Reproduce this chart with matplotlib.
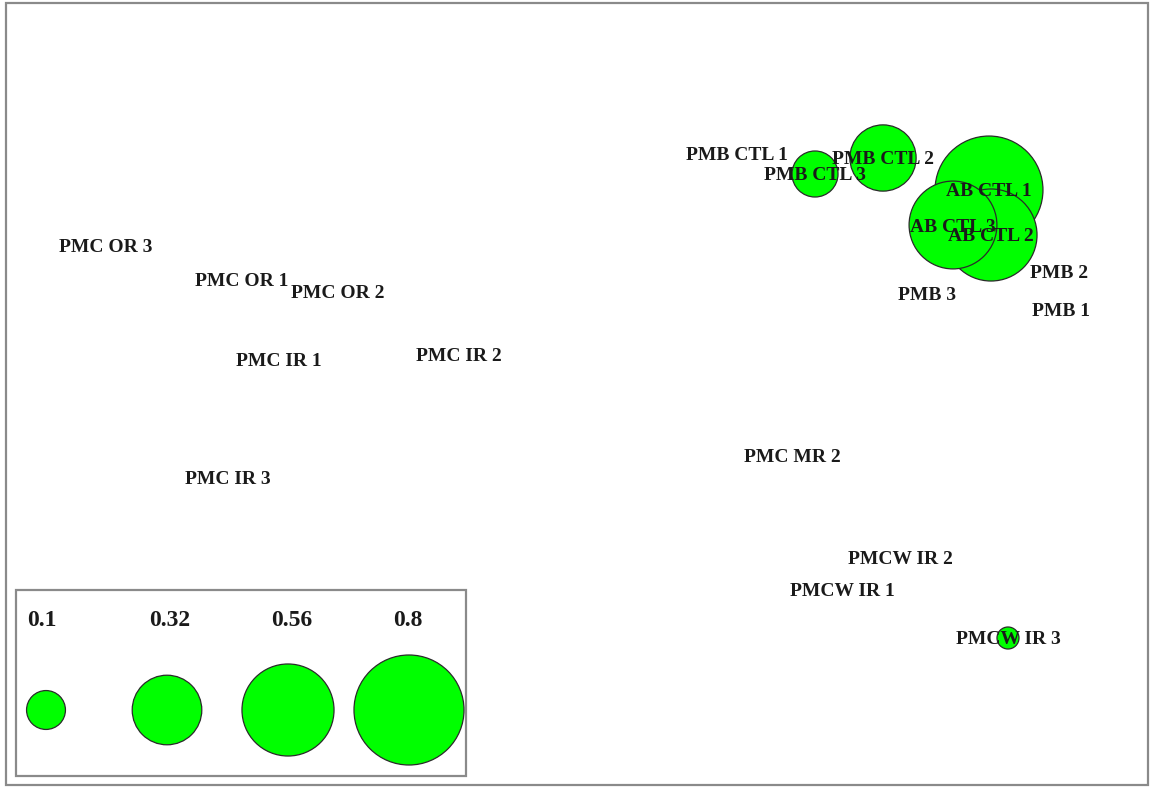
import matplotlib
matplotlib.use("Agg")
import matplotlib.pyplot as plt
from matplotlib.patches import Circle, Rectangle
import numpy as np

# ---- data (MDS-like coordinates, y upward) ----
labels = ["PMC OR 3", "PMC OR 1", "PMC OR 2", "PMC IR 1", "PMC IR 2", "PMC IR 3",
          "PMC MR 2", "PMCW IR 2", "PMCW IR 1", "PMCW IR 3",
          "PMB CTL 1", "PMB CTL 3", "PMB CTL 2",
          "AB CTL 1", "AB CTL 2", "AB CTL 3",
          "PMB 2", "PMB 3", "PMB 1"]
dim1 = [1.06, 2.42, 3.38, 2.79, 4.59, 2.28,
        7.92, 9.00, 8.42, 10.08,
        7.37, 8.15, 8.83,
        9.89, 9.91, 9.53,
        10.59, 9.27, 10.61]
dim2 = [5.43, 5.09, 4.96, 4.28, 4.33, 3.10,
        3.33, 2.30, 1.98, 1.50,
        6.35, 6.14, 6.30,
        5.98, 5.53, 5.63,
        5.17, 4.94, 4.78]
abundance = [0, 0, 0, 0, 0, 0,
             0, 0, 0, 0.032,
             0, 0.14, 0.29,
             0.77, 0.56, 0.51,
             0, 0, 0]
legend_values = [0.1, 0.32, 0.56, 0.8]

# ---- style ----
GREEN = "#00ff00"
EDGE = "#2a2a2a"
FONT = dict(family="Liberation Serif", weight="bold", color="#1a1a1a")
scale = 0.615  # radius = scale * sqrt(value)
text_dy = -0.02

fig = plt.figure(figsize=(11.51, 7.88), dpi=100)
ax = fig.add_axes([0, 0, 1, 1])
ax.set_xlim(0, 11.51)
ax.set_ylim(0, 7.88)
ax.set_aspect("equal")
ax.axis("off")

# outer frame
ax.add_patch(Rectangle((0.06, 0.03), 11.42, 7.82, fill=False,
                       edgecolor="#8a8a8a", lw=1.6))

# bubbles
for x, y, v in zip(dim1, dim2, abundance):
    if v > 0:
        ax.add_patch(Circle((x, y), scale * np.sqrt(v), facecolor=GREEN,
                            edgecolor=EDGE, lw=0.9, zorder=2))

# labels
for x, y, t in zip(dim1, dim2, labels):
    ax.text(x, y + text_dy, t, ha="center", va="center", fontsize=14,
            zorder=3, **FONT)

# legend box
ax.add_patch(Rectangle((0.16, 0.12), 4.50, 1.86, fill=False,
                       edgecolor="#8a8a8a", lw=1.6, zorder=2))
leg_x = [0.46, 1.67, 2.88, 4.09]
leg_tx = [0.42, 1.70, 2.92, 4.08]
for lx, tx, v in zip(leg_x, leg_tx, legend_values):
    ax.add_patch(Circle((lx, 0.78), scale * np.sqrt(v), facecolor=GREEN,
                        edgecolor=EDGE, lw=0.9, zorder=2))
    ax.text(tx, 1.68, f"{v:g}", ha="center", va="center", fontsize=17,
            zorder=3, **FONT)

fig.savefig("out.png", dpi=100, facecolor="white")
